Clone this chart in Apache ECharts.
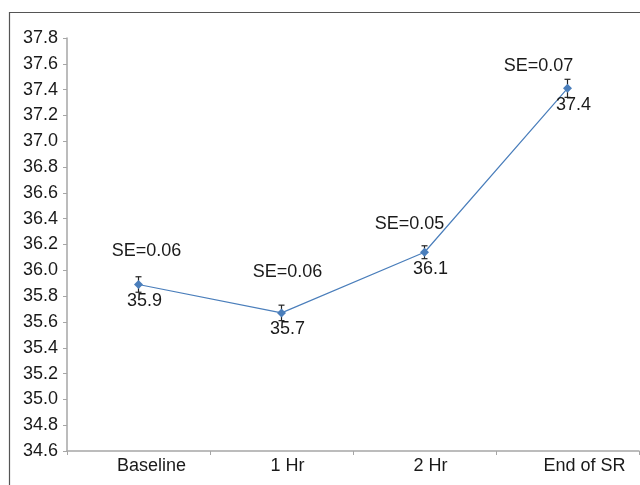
<!DOCTYPE html>
<html>
<head>
<meta charset="utf-8">
<script src="https://cdn.jsdelivr.net/npm/echarts@6/dist/echarts.min.js"></script>
<style>
  html, body { margin: 0; padding: 0; background: #fff; }
  #chart { width: 640px; height: 485px; }
</style>
</head>
<body>
<div id="chart"></div>
<script>
// Time points along the x axis
const categories = ['Baseline', '1 Hr', '2 Hr', 'End of SR'];
// Mean temperature at each time point
const meanTemp = [35.89, 35.67, 36.14, 37.41];
// Standard error at each time point
const seValues = [0.06, 0.06, 0.05, 0.07];
// Y axis range and step
const yMin = 34.6;
const yMax = 37.8;
const yStep = 0.2;

// Offsets [dx, dy] for the "SE=" annotations
const seLabelNudge = [[8, -33], [6, -41], [-15, -28], [-29, -22]];
// Horizontal shift of each category label
const catLabelShift = [13, 6, 6, 17];

const FONT = 'Liberation Sans, Arial, sans-serif';
const TEXT = '#1a1a1a';
const BLUE = '#4a7ebb';
const FS = 18;

const chart = echarts.init(document.getElementById('chart'), null, { renderer: 'canvas' });

const errorData = categories.map((c, i) => [i, meanTemp[i] - seValues[i], meanTemp[i] + seValues[i]]);

// one rich style per category so each label can be nudged sideways
const catRich = {};
catLabelShift.forEach((s, i) => {
  catRich['c' + i] = {
    color: TEXT, fontFamily: FONT, fontSize: FS,
    padding: s >= 0 ? [0, 0, 0, 2 * s] : [0, -2 * s, 0, 0]
  };
});

chart.setOption({
  animation: false,
  backgroundColor: '#fff',
  graphic: [{
    type: 'rect',
    shape: { x: 9.5, y: 12.5, width: 660, height: 500 },
    style: { fill: 'none', stroke: '#555', lineWidth: 1.2 },
    silent: true
  }],
  grid: { left: 67, right: 1, top: 38, bottom: 34 },
  xAxis: {
    type: 'category',
    data: categories,
    boundaryGap: true,
    axisLine: { lineStyle: { color: '#a6a6a6', width: 1.5 } },
    axisTick: { show: true, alignWithLabel: false, length: 4, lineStyle: { color: '#a6a6a6' } },
    axisLabel: {
      color: TEXT, fontFamily: FONT, fontSize: FS, margin: 6,
      interval: 0,
      formatter: (v, i) => '{c' + i + '|' + v + '}',
      rich: catRich
    },
    splitLine: { show: false }
  },
  yAxis: {
    type: 'value',
    min: yMin,
    max: yMax,
    interval: yStep,
    axisLine: { show: true, lineStyle: { color: '#a6a6a6', width: 1.5 } },
    axisTick: { show: true, length: 4, lineStyle: { color: '#a6a6a6' } },
    axisLabel: {
      color: TEXT, fontFamily: FONT, fontSize: FS, margin: 9,
      formatter: v => v.toFixed(1)
    },
    splitLine: { show: false }
  },
  series: [
    {
      name: 'Mean',
      type: 'line',
      data: meanTemp,
      symbol: 'diamond',
      symbolSize: 9,
      itemStyle: { color: BLUE },
      lineStyle: { color: BLUE, width: 1.2 },
      label: {
        show: true,
        position: 'bottom',
        distance: 3,
        offset: [6, 0],
        color: TEXT,
        fontFamily: FONT,
        fontSize: FS,
        formatter: p => p.value.toFixed(1)
      },
      z: 3
    },
    {
      name: 'SE',
      type: 'custom',
      data: errorData,
      renderItem: (params, api) => {
        const lo = api.coord([api.value(0), api.value(1)]);
        const hi = api.coord([api.value(0), api.value(2)]);
        const cap = 3;
        const style = { stroke: '#222', lineWidth: 1.2 };
        return {
          type: 'group',
          children: [
            { type: 'line', shape: { x1: hi[0], y1: hi[1], x2: lo[0], y2: lo[1] }, style },
            { type: 'line', shape: { x1: hi[0] - cap, y1: hi[1], x2: hi[0] + cap, y2: hi[1] }, style },
            { type: 'line', shape: { x1: lo[0] - cap, y1: lo[1], x2: lo[0] + cap, y2: lo[1] }, style }
          ]
        };
      },
      z: 2
    },
    {
      name: 'SE label',
      type: 'scatter',
      symbolSize: 0,
      itemStyle: { opacity: 1 },
      data: meanTemp.map((v, i) => ({
        value: [i, v],
        label: { offset: seLabelNudge[i] }
      })),
      label: {
        show: true,
        position: 'inside',
        color: TEXT,
        opacity: 1,
        fontFamily: FONT,
        fontSize: FS,
        formatter: p => 'SE=' + seValues[p.dataIndex].toFixed(2)
      },
      silent: true,
      z: 4
    }
  ]
});
</script>
</body>
</html>
